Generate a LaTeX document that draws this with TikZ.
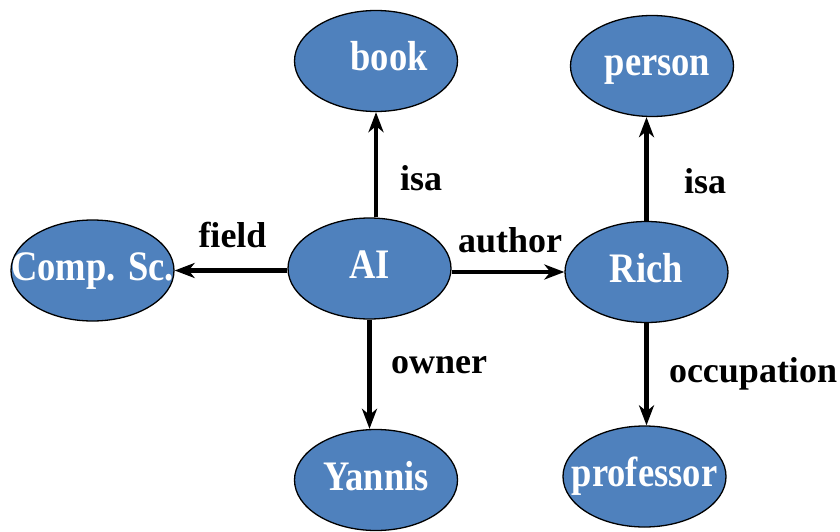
\documentclass[tikz,border=0pt]{standalone}
\usepackage{fontspec}
\usepackage{graphicx}
\setmainfont{Liberation Serif}
\usetikzlibrary{shapes.geometric,arrows.meta}
\definecolor{nodeblue}{HTML}{4F81BD}
\newcommand\ntext[2][0pt]{\makebox[0pt]{\hspace*{#1}\scalebox{0.87}[1]{#2}}}
\begin{document}
\begin{tikzpicture}[x=1pt,y=-1pt,
  ent/.style={ellipse, draw=black, line width=1.3pt, fill=nodeblue,
    minimum width=163pt, minimum height=101pt, inner sep=0pt, text=white,
    font=\fontsize{42}{50}\selectfont\bfseries, text height=20pt, text depth=0pt},
  rel/.style={font=\fontsize{36}{43}\selectfont\bfseries, anchor=base, inner sep=0pt},
  arr/.style={line width=4.5pt, -{Stealth[length=20pt,width=15pt,inset=6pt]}}]
\useasboundingbox (0,0) rectangle (840,532);

\node[ent] (book)   at (376,61)     {\ntext[26pt]{book}};
\node[ent] (person) at (652,66)     {\ntext[11pt]{person}};
\node[ent] (comp)   at (92.5,270.5) {\ntext{Comp. Sc.}};
\node[ent] (AI)     at (369.5,268.5){\ntext{AI}};
\node[ent] (rich)   at (646.5,272)  {\ntext{Rich}};
\node[ent] (yannis) at (376,480)    {\ntext{Yannis}};
\node[ent] (prof)   at (644.5,476.5){\ntext{professor}};

\draw[arr] (AI.north -| book) -- (book.south);
\draw[arr] (AI.west |- comp.east) -- (comp.east);
\draw[arr] (AI.east |- rich.west) -- (rich.west);
\draw[arr] (AI.south) -- (AI.south |- yannis.north);
\draw[arr] (rich.north) -- (rich.north |- person.south);
\draw[arr] (rich.south) -- (rich.south |- prof.north);

\node[rel] (l1) at (421,190)   {isa};
\node[rel] (l2) at (705,193)   {isa};
\node[rel] (l3) at (232.5,247) {field};
\node[rel] (l4) at (510,252)   {author};
\node[rel] (l5) at (439,373)   {owner};
\node[rel] (l6) at (753,382)   {occupation};
\end{tikzpicture}
\end{document}
